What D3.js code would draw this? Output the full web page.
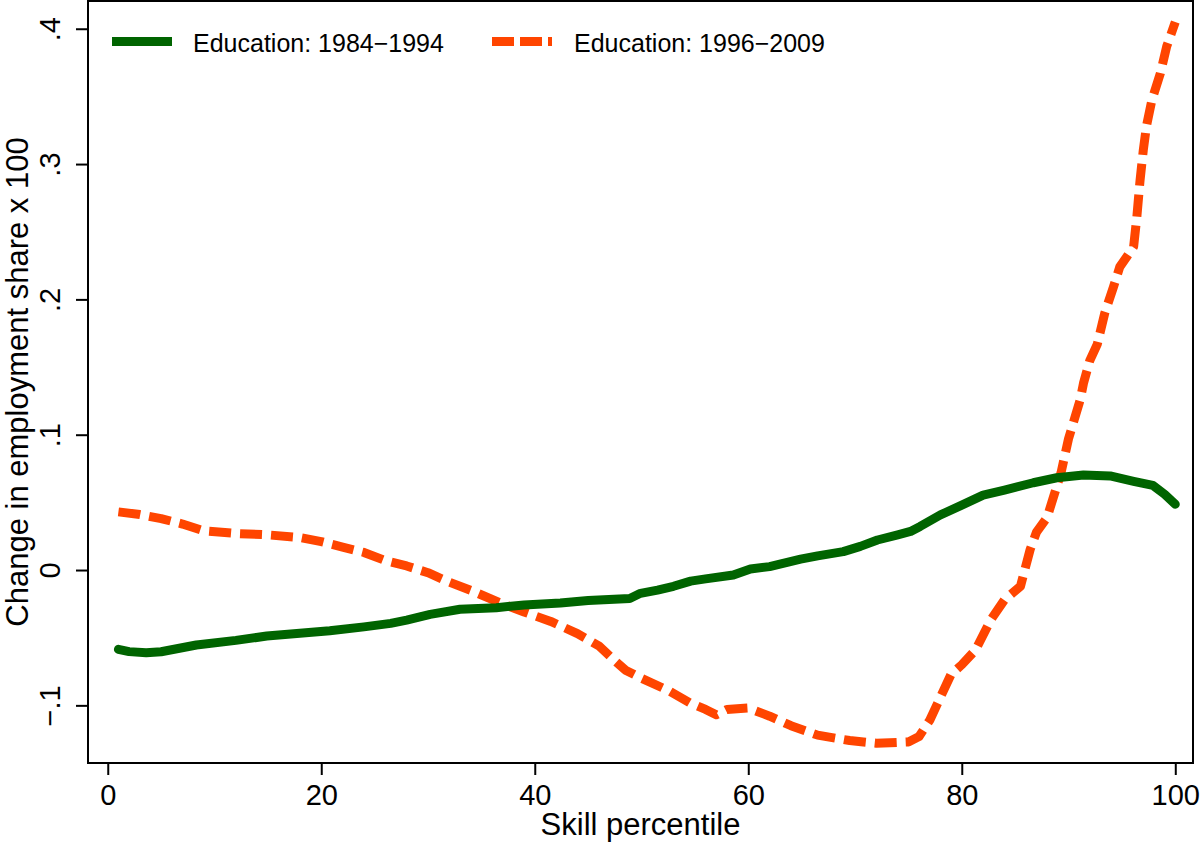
<!DOCTYPE html>
<html>
<head>
<meta charset="utf-8">
<script src="https://cdn.jsdelivr.net/npm/d3@7"></script>
<style>
  html, body { margin: 0; padding: 0; background: #fff; }
  svg { display: block; }
  text { font-family: "Liberation Sans", Arial, Helvetica, sans-serif; fill: #000; }
</style>
</head>
<body>
<svg id="chart" width="1200" height="847"></svg>
<script>
// ---- data ----
const seriesNames = ["Education: 1984\u22121994", "Education: 1996\u22122009"];
const xTicks = [0, 20, 40, 60, 80, 100];
const yTicks = [-0.1, 0, 0.1, 0.2, 0.3, 0.4];
const xAxisTitle = "Skill percentile";
const yAxisTitle = "Change in employment share x 100";

const greenX = [1, 2, 3.6, 5, 8.3, 12, 14.9, 20.8, 24, 26.5, 28, 30.2, 33, 36.4, 39, 42.4, 45, 48.9, 49.9, 51.5, 53, 54.6, 56, 58.6, 60.2, 62, 64.9, 66.5, 68.9, 70.5, 72.1, 74, 75.2, 76.1, 78, 80, 82, 84, 86.7, 88.9, 91.4, 93.9, 96.1, 97.9, 99, 100];
const greenY = [-0.0586, -0.0603, -0.0611, -0.0604, -0.0554, -0.052, -0.0488, -0.0448, -0.042, -0.0394, -0.037, -0.0328, -0.029, -0.0278, -0.0258, -0.0243, -0.0225, -0.021, -0.0172, -0.0148, -0.012, -0.0082, -0.0065, -0.0037, 0.0008, 0.0025, 0.008, 0.0105, 0.0136, 0.0175, 0.0222, 0.026, 0.0285, 0.0322, 0.0407, 0.048, 0.0554, 0.0591, 0.0645, 0.0682, 0.0702, 0.0695, 0.0655, 0.0625, 0.056, 0.0486];

const orangeX = [1, 3, 5, 7, 9, 12, 15, 18, 20, 22, 24, 26, 28, 30, 32, 34, 37, 39, 41.5, 44, 46, 47.5, 48.5, 50, 52.5, 54.5, 56, 57, 58, 60, 62, 64, 66.5, 69.5, 72, 75, 76, 77, 78, 79, 80, 81.3, 82.7, 84, 85.5, 86.4, 87, 88, 89.3, 90, 91.1, 91.4, 92, 92.7, 93.4, 94.2, 94.8, 95.5, 96.1, 96.4, 96.7, 97, 97.3, 97.8, 98.6, 99.2, 100];
const orangeY = [0.043, 0.041, 0.038, 0.034, 0.029, 0.027, 0.026, 0.024, 0.021, 0.017, 0.013, 0.007, 0.003, -0.002, -0.009, -0.015, -0.025, -0.031, -0.038, -0.047, -0.056, -0.067, -0.074, -0.080, -0.089, -0.098, -0.103, -0.107, -0.103, -0.102, -0.108, -0.115, -0.122, -0.126, -0.128, -0.127, -0.123, -0.111, -0.094, -0.077, -0.070, -0.059, -0.037, -0.022, -0.012, 0.015, 0.028, 0.039, 0.072, 0.097, 0.126, 0.138, 0.155, 0.167, 0.19, 0.209, 0.224, 0.232, 0.239, 0.261, 0.288, 0.31, 0.328, 0.347, 0.367, 0.387, 0.405];

// ---- layout ----
const svg = d3.select("#chart");
const plot = { left: 88, right: 1193, top: 1, bottom: 763 };
const colors = ["#006400", "#ff4500"];

const x = d3.scaleLinear().domain([-1.85, 101.66]).range([plot.left, plot.right]);
const y = d3.scaleLinear().domain([-0.1426, 0.4205]).range([plot.bottom, plot.top]);

// frame
svg.append("rect")
  .attr("x", plot.left).attr("y", plot.top)
  .attr("width", plot.right - plot.left).attr("height", plot.bottom - plot.top)
  .attr("fill", "none").attr("stroke", "#000").attr("stroke-width", 2);

// x axis
const gx = svg.append("g")
  .attr("transform", `translate(0,${plot.bottom})`)
  .call(d3.axisBottom(x).tickValues(xTicks).tickSize(12).tickFormat(d3.format("d")));
gx.select(".domain").remove();
gx.selectAll(".tick line").attr("stroke", "#000").attr("stroke-width", 2);
gx.selectAll(".tick text")
  .attr("y", 42).attr("dy", 0)
  .style("font-size", "29px").style("font-family", "Liberation Sans, Arial, sans-serif");

// y axis
const fmtY = d => d === 0 ? "0" : (d < 0 ? "\u2212" : "") + "." + Math.round(Math.abs(d) * 10);
const gy = svg.append("g")
  .attr("transform", `translate(${plot.left},0)`)
  .call(d3.axisLeft(y).tickValues(yTicks).tickSize(12).tickFormat(fmtY));
gy.select(".domain").remove();
gy.selectAll(".tick line").attr("stroke", "#000").attr("stroke-width", 2);
gy.selectAll(".tick text")
  .attr("transform", "rotate(-90)")
  .attr("x", 0).attr("y", -28).attr("dy", 0)
  .attr("text-anchor", "middle")
  .style("font-size", "29px").style("font-family", "Liberation Sans, Arial, sans-serif");

// axis titles
svg.append("text")
  .attr("x", (plot.left + plot.right) / 2).attr("y", 835)
  .attr("text-anchor", "middle")
  .style("font-size", "31px")
  .text(xAxisTitle);
svg.append("text")
  .attr("transform", `translate(28,${(plot.top + plot.bottom) / 2}) rotate(-90)`)
  .attr("text-anchor", "middle")
  .style("font-size", "31px")
  .text(yAxisTitle);

// lines
const line = d3.line().x(d => x(d[0])).y(d => y(d[1]));
const greenData = greenX.map((v, i) => [v, greenY[i]]);
const orangeData = orangeX.map((v, i) => [v, orangeY[i]]);

svg.append("path").datum(orangeData)
  .attr("d", line)
  .attr("fill", "none").attr("stroke", colors[1]).attr("stroke-width", 9)
  .attr("stroke-dasharray", "22,9").attr("stroke-linejoin", "round");

svg.append("path").datum(greenData)
  .attr("d", line)
  .attr("fill", "none").attr("stroke", colors[0]).attr("stroke-width", 9)
  .attr("stroke-linecap", "round").attr("stroke-linejoin", "round");

// legend
const legend = [
  { x1: 112, x2: 172, tx: 193, dash: null },
  { x1: 492, x2: 552, tx: 574, dash: "22,6" }
];
legend.forEach((L, i) => {
  svg.append("line")
    .attr("x1", L.x1).attr("x2", L.x2).attr("y1", 41.5).attr("y2", 41.5)
    .attr("stroke", colors[i]).attr("stroke-width", 9)
    .attr("stroke-dasharray", L.dash);
  svg.append("text")
    .attr("x", L.tx).attr("y", 52)
    .style("font-size", "25px")
    .text(seriesNames[i]);
});
</script>
</body>
</html>
